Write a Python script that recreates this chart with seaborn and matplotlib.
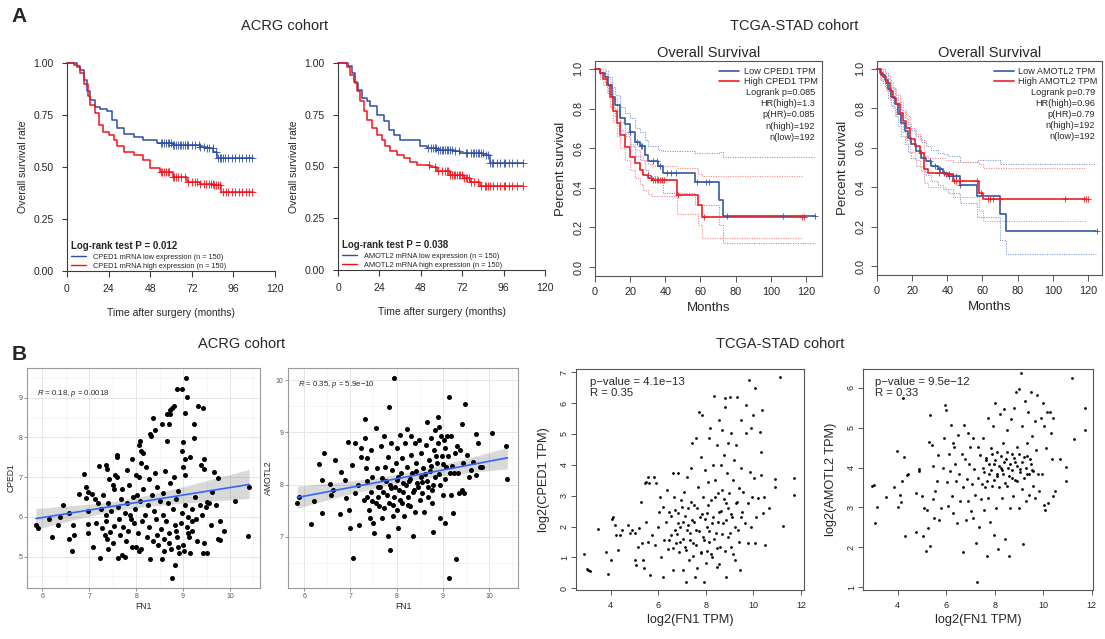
import numpy as np
import matplotlib
matplotlib.use("Agg")
import matplotlib.pyplot as plt
from matplotlib.lines import Line2D
from matplotlib.ticker import AutoMinorLocator
import seaborn as sns

# ── KM data: ACRG cohort (months, survival) ───────────────────────────────────
A1_LOW_T = [0, 6, 7.7, 9.6, 11.5, 13.4, 16.3, 19.2, 23, 26, 28.8, 32.6, 38.4, 44, 52, 61, 77, 80.6, 84.5, 86.4, 107.5]
A1_LOW_S = [1.0, 0.985, 0.965, 0.92, 0.863, 0.823, 0.79, 0.78, 0.77, 0.727, 0.687, 0.66, 0.646, 0.63, 0.617, 0.606, 0.598, 0.59, 0.57, 0.542, 0.542]
A1_HIGH_T = [0, 4, 5.8, 7.7, 9.6, 12, 13.4, 16.3, 18.2, 21, 24, 26.9, 28.8, 32.6, 38.4, 44, 48, 53.8, 61, 69, 77, 84.5, 89, 107.5]
A1_HIGH_S = [1.0, 0.99, 0.98, 0.95, 0.90, 0.84, 0.80, 0.76, 0.70, 0.67, 0.655, 0.63, 0.60, 0.574, 0.558, 0.534, 0.494, 0.477, 0.453, 0.43, 0.42, 0.413, 0.38, 0.38]
A1_LOW_CENS = [54, 55, 56, 57, 58, 59, 60, 61, 62, 63, 64, 65, 66, 67, 68, 69, 70, 72, 74, 76, 77, 79, 81, 82, 84,
               86, 87, 88, 89, 90, 91, 93, 95, 97, 99, 101, 103, 105, 107]
A1_HIGH_CENS = [54, 55, 56, 57, 58, 59, 61, 62, 63, 64, 66, 68, 70, 72, 74, 75, 77, 79, 80, 82, 83, 84, 85, 86,
                87, 88, 90, 92, 93, 95, 97, 99, 101, 103, 105, 107]
A1_LABELS = ["CPED1 mRNA low expression (n = 150)", "CPED1 mRNA high expression (n = 150)"]
A1_P = "Log-rank test P = 0.012"

A2_LOW_T = [0, 6, 8.1, 10, 11.4, 13.9, 16.8, 18.7, 22.6, 26.4, 29.3, 32.2, 36, 47.7, 51.5, 57.3, 67, 70.8, 84.3, 88, 107.5]
A2_LOW_S = [1.0, 0.985, 0.952, 0.903, 0.87, 0.83, 0.815, 0.79, 0.75, 0.718, 0.677, 0.653, 0.629, 0.597, 0.589, 0.58, 0.573, 0.565, 0.556, 0.516, 0.516]
A2_HIGH_T = [0, 5.2, 7.1, 9, 11, 12.9, 14.9, 16.8, 19.7, 22.6, 25.5, 27.4, 30.3, 34.2, 38, 42, 45.8, 53.5, 57.3, 65, 72.8, 76.6, 82.4, 107.5]
A2_HIGH_S = [1.0, 0.98, 0.94, 0.91, 0.863, 0.815, 0.766, 0.726, 0.685, 0.653, 0.629, 0.597, 0.573, 0.556, 0.54, 0.524, 0.508, 0.50, 0.476, 0.46, 0.444, 0.427, 0.406, 0.406]
A2_LOW_CENS = [52, 54, 55, 56, 57, 58, 59, 60, 61, 62, 63, 64, 65, 66, 68, 70, 74, 75, 77, 78, 79, 80, 81, 82, 83,
               84, 86, 87, 88, 89, 90, 92, 94, 96, 97, 99, 101, 104, 107]
A2_HIGH_CENS = [53, 56, 58, 60, 62, 63, 64, 65, 66, 67, 68, 69, 70, 71, 72, 73, 74, 75, 76, 77, 79, 81, 83, 85, 86,
                87, 88, 90, 92, 94, 96, 97, 99, 101, 104, 107]
A2_LABELS = ["AMOTL2 mRNA low expression (n = 150)", "AMOTL2 mRNA high expression (n = 150)"]
A2_P = "Log-rank test P = 0.038"

# ── KM data: TCGA-STAD (GEPIA) with 95% CI ────────────────────────────────────
A3_LOW_T = [0, 2.8, 5.7, 7.6, 9.5, 11.4, 14.2, 17, 19.9, 22.7, 25.6, 28.4, 30.3, 36, 38.9, 57, 70.3, 73, 125]
A3_LOW_S = [1, .98, .96, .92, .86, .82, .75, .72, .68, .63, .61, .566, .533, .508, .474, .427, .34, .256, .256]
A3_LOW_HI = [1, 1, .99, .96, .91, .87, .81, .78, .75, .70, .68, .64, .61, .59, .585, .575, .58, .555, .555]
A3_LOW_LO = [1, .96, .93, .88, .81, .76, .69, .66, .61, .56, .54, .49, .46, .43, .375, .315, .21, .12, .12]
A3_HIGH_T = [0, 2.8, 4.7, 6.6, 8.5, 10.4, 12.3, 14.2, 17, 19.9, 22.7, 25.6, 27.5, 30.3, 32.2, 46.4, 58.8, 60.7, 117.5]
A3_HIGH_S = [1, .98, .95, .92, .86, .79, .726, .667, .608, .558, .524, .49, .466, .449, .44, .365, .314, .255, .255]
A3_HIGH_HI = [1, 1, .98, .96, .91, .85, .79, .73, .67, .62, .59, .56, .54, .52, .51, .50, .47, .46, .46]
A3_HIGH_LO = [1, .95, .92, .88, .81, .73, .66, .60, .54, .49, .45, .42, .39, .37, .36, .27, .21, .145, .145]
A3_LOW_CENS = [20, 24, 26, 27, 33, 35, 37, 41, 43, 46, 58, 63, 65, 75, 107, 125]
A3_HIGH_CENS = [30, 32, 33, 34, 35, 36, 37, 38, 39, 47, 62, 118, 119]
A3_LABELS = ["Low CPED1 TPM", "High CPED1 TPM"]
A3_STATS = ["Logrank p=0.085", "HR(high)=1.3", "p(HR)=0.085", "n(high)=192", "n(low)=192"]

A4_LOW_T = [0, 2.5, 4.4, 6.3, 8.2, 10, 12, 13.8, 15.7, 17.6, 19.5, 22.4, 25.2, 28, 31, 34.7, 37.5, 40.4, 47, 57, 69.8, 73.2, 124.7]
A4_LOW_S = [1, .97, .945, .90, .86, .82, .77, .726, .684, .65, .617, .583, .55, .533, .508, .49, .474, .457, .41, .356, .264, .18, .18]
A4_LOW_HI = [1, 1, .98, .95, .91, .87, .83, .79, .75, .72, .69, .66, .63, .61, .59, .575, .57, .56, .53, .54, .52, .52, .52]
A4_LOW_LO = [1, .94, .91, .85, .81, .76, .71, .66, .62, .58, .55, .51, .48, .46, .43, .41, .39, .37, .32, .25, .13, .06, .06]
A4_HIGH_T = [0, 1.5, 3.4, 5.3, 7.2, 9.1, 11, 12.9, 14.8, 16.7, 18.6, 21.4, 24.3, 27, 29, 38.5, 43.2, 58, 60.3, 119]
A4_HIGH_S = [1, .98, .96, .93, .886, .852, .82, .776, .734, .70, .642, .608, .575, .49, .474, .466, .432, .373, .34, .34]
A4_HIGH_HI = [1, 1, .99, .97, .93, .90, .87, .83, .79, .76, .70, .67, .64, .56, .55, .54, .53, .52, .50, .50]
A4_HIGH_LO = [1, .95, .93, .89, .84, .80, .77, .72, .68, .64, .58, .54, .51, .42, .40, .39, .35, .28, .23, .23]
A4_LOW_CENS = [30, 33, 35, 36, 38, 41, 43, 45, 47, 125]
A4_HIGH_CENS = [25, 35, 39, 41, 44, 45, 47, 57, 59, 63, 64, 66, 70, 107, 118, 119, 120]
A4_LABELS = ["Low AMOTL2 TPM", "High AMOTL2 TPM"]
A4_STATS = ["Logrank p=0.79", "HR(high)=0.96", "p(HR)=0.79", "n(high)=192", "n(low)=192"]

# ── scatter data: ACRG cohort (FN1 vs CPED1 / AMOTL2) ─────────────────────────
B1_X = [5.86, 5.90, 6.14, 6.21, 6.33, 6.43, 6.37, 6.57, 6.57, 6.64,
        6.67, 6.65, 6.78, 6.89, 6.93, 6.92, 6.98, 6.98, 6.98, 6.98,
        7.05, 7.08, 7.12, 7.21, 7.22, 7.15, 7.18, 7.25, 7.28, 7.30,
        7.33, 7.35, 7.36, 7.38, 7.40, 7.41, 7.40, 7.35, 7.38, 7.45,
        7.47, 7.50, 7.52, 7.50, 7.53, 7.55, 7.58, 7.60, 7.60, 7.61,
        7.62, 7.63, 7.65, 7.68, 7.70, 7.70, 7.72, 7.75, 7.76, 7.78,
        7.80, 7.81, 7.83, 7.85, 7.87, 7.88, 7.90, 7.92, 7.93, 7.95,
        7.97, 8.00, 8.00, 8.02, 8.03, 8.05, 8.05, 8.07, 8.05, 8.08,
        8.10, 8.10, 8.10, 8.12, 8.15, 8.15, 8.18, 8.20, 8.22, 8.25,
        8.27, 8.28, 8.29, 8.30, 8.32, 8.33, 8.35, 8.35, 8.38, 8.40,
        8.40, 8.42, 8.45, 8.47, 8.50, 8.52, 8.55, 8.56, 8.57, 8.58,
        8.60, 8.62, 8.63, 8.65, 8.66, 8.67, 8.70, 8.70, 8.71, 8.72,
        8.73, 8.75, 8.76, 8.77, 8.78, 8.80, 8.80, 8.82, 8.83, 8.85,
        8.88, 8.88, 8.90, 8.92, 8.95, 8.97, 8.97, 8.98, 9.00, 9.00,
        9.02, 9.04, 9.05, 9.05, 9.05, 9.06, 9.08, 9.09, 9.10, 9.12,
        9.15, 9.15, 9.18, 9.20, 9.23, 9.23, 9.25, 9.28, 9.32, 9.35,
        9.38, 9.40, 9.42, 9.43, 9.45, 9.45, 9.45, 9.48, 9.50, 9.50,
        9.55, 9.62, 9.66, 9.70, 9.74, 9.75, 9.78, 9.79, 9.87, 10.11,
        10.41, 10.39,
        8.70, 8.85, 8.90, 9.00, 9.10, 9.20, 9.30, 9.60, 8.45, 8.60]
B1_Y = [5.80, 5.72, 5.96, 5.50, 5.80, 6.30, 5.99, 6.11, 5.44, 5.15,
        5.55, 5.80, 6.57, 7.07, 6.76, 6.47, 6.64, 6.14, 5.81, 5.59,
        6.58, 5.23, 6.45, 7.28, 4.96, 5.85, 6.35, 6.20, 5.72, 6.55,
        5.55, 6.05, 7.30, 7.20, 5.20, 6.95, 6.35, 5.90, 5.45, 5.62,
        6.15, 6.80, 6.70, 5.35, 5.78, 7.05, 7.00, 7.55, 7.50, 4.97,
        6.25, 5.95, 5.55, 6.45, 6.70, 5.05, 5.75, 4.98, 6.10, 5.40,
        6.35, 7.18, 5.65, 6.80, 6.05, 5.95, 5.25, 7.47, 6.50, 5.85,
        6.20, 7.05, 5.25, 6.55, 5.60, 7.00, 7.80, 7.90, 5.15, 6.40,
        7.65, 5.20, 7.35, 5.90, 7.60, 6.70, 6.05, 7.25, 5.50, 6.30,
        6.95, 5.75, 4.93, 8.10, 8.05, 6.55, 8.50, 5.40, 6.15, 8.20,
        7.10, 5.95, 6.75, 5.30, 6.40, 5.70, 4.93, 8.33, 6.60, 6.05,
        5.45, 7.15, 5.90, 7.90, 8.60, 6.35, 8.35, 5.60, 8.60, 6.85,
        8.70, 5.20, 4.45, 8.75, 6.20, 8.80, 7.00, 5.80, 4.79, 6.45,
        9.21, 5.50, 6.65, 5.10, 5.85, 9.23, 6.10, 7.65, 7.89, 7.25,
        5.15, 8.61, 7.45, 7.05, 6.30, 9.49, 5.75, 9.03, 6.00, 5.50,
        7.50, 5.10, 6.20, 5.65, 8.33, 7.98, 6.50, 5.95, 8.79, 6.30,
        7.30, 6.05, 8.74, 5.09, 7.45, 7.20, 5.35, 6.25, 5.10, 6.38,
        6.35, 6.64, 7.14, 6.30, 6.99, 5.45, 5.42, 5.90, 5.64, 6.41,
        6.75, 5.53,
        5.35, 5.65, 5.25, 5.30, 5.60, 5.90, 5.40, 5.80, 5.55, 5.15]
B1_NOTE = r"$\it{R}$ = 0.18, $\it{p}$ = 0.0018"

B2_X = [5.85, 5.89, 6.22, 6.14, 6.32, 6.38, 6.39, 6.43, 6.56, 6.58,
        6.63, 6.66, 6.77, 6.79, 6.88, 6.90, 6.95, 6.97, 6.99, 7.04,
        7.06, 7.10, 7.11, 7.17, 7.18, 7.22, 7.24, 7.31, 7.31, 7.33,
        7.35, 7.37, 7.37, 7.40, 7.42, 7.44, 7.46, 7.47, 7.49, 7.52,
        7.55, 7.57, 7.59, 7.60, 7.62, 7.66, 7.68, 7.69, 7.71, 7.73,
        7.75, 7.78, 7.81, 7.82, 7.83, 7.83, 7.86, 7.88, 7.89, 7.91,
        7.93, 7.94, 7.95, 7.98, 8.00, 8.00, 8.02, 8.04, 8.06, 8.07,
        8.09, 8.11, 8.12, 8.14, 8.17, 8.18, 8.22, 8.22, 8.24, 8.27,
        8.29, 8.31, 8.32, 8.34, 8.36, 8.38, 8.40, 8.41, 8.43, 8.45,
        8.48, 8.51, 8.53, 8.54, 8.56, 8.58, 8.60, 8.63, 8.65, 8.67,
        8.69, 8.70, 8.72, 8.74, 8.76, 8.77, 8.79, 8.82, 8.83, 8.84,
        8.87, 8.89, 8.90, 8.92, 8.94, 8.95, 8.97, 8.99, 9.01, 9.03,
        9.05, 9.06, 9.08, 9.10, 9.13, 9.14, 9.16, 9.18, 9.19, 9.23,
        9.25, 9.28, 9.30, 9.34, 9.35, 9.37, 9.41, 9.42, 9.44, 9.47,
        9.48, 9.52, 9.57, 9.61, 9.66, 9.71, 9.73, 9.77, 9.80, 9.86,
        10.07, 10.38, 10.40,
        7.30, 7.45, 7.55, 7.65, 7.72, 7.80, 7.85, 7.92, 7.97, 8.03,
        8.08, 8.13, 8.20, 8.25, 8.30, 8.35, 8.42, 8.47, 8.55, 8.62,
        8.68, 8.75, 8.80, 8.86, 8.93, 9.00, 9.05, 9.12, 9.20, 9.27]
B2_Y = [7.64, 7.77, 7.68, 7.25, 8.39, 7.45, 8.08, 8.60, 8.01, 7.80,
        7.89, 8.46, 7.43, 8.24, 8.09, 7.74, 8.82, 7.52, 7.17, 8.38,
        6.59, 7.83, 8.79, 7.99, 7.23, 8.69, 8.53, 9.25, 8.89, 8.31,
        8.06, 7.77, 8.50, 7.52, 7.36, 8.66, 7.68, 8.15, 7.26, 7.07,
        9.08, 8.31, 7.96, 7.77, 7.58, 8.73, 8.12, 7.36, 7.86, 8.92,
        8.34, 8.06, 7.01, 8.53, 9.49, 7.64, 6.75, 8.79, 7.93, 8.28,
        7.39, 10.03, 7.77, 8.41, 8.09, 7.52, 8.69, 7.17, 7.90, 8.95,
        8.22, 7.64, 8.50, 8.03, 7.39, 8.79, 9.06, 8.34, 7.77, 8.06,
        7.58, 8.93, 8.57, 8.22, 7.01, 7.90, 8.79, 7.48, 8.41, 8.03,
        8.85, 7.71, 8.15, 8.60, 7.83, 8.31, 7.48, 8.76, 9.20, 8.06,
        7.77, 8.47, 8.25, 8.89, 7.90, 7.64, 7.10, 8.66, 9.04, 8.15,
        8.41, 8.79, 9.30, 9.11, 7.99, 7.36, 8.92, 8.54, 7.80, 8.85,
        7.26, 8.69, 8.34, 8.92, 9.68, 6.21, 8.22, 8.92, 7.80, 7.45,
        8.22, 6.57, 8.73, 8.22, 7.83, 8.66, 9.15, 7.90, 8.41, 7.83,
        9.55, 8.57, 8.15, 8.28, 8.44, 8.97, 8.18, 8.79, 8.34, 8.34,
        8.99, 8.74, 8.11,
        7.70, 7.85, 7.65, 7.95, 7.55, 7.80, 8.00, 7.60, 7.95, 8.15,
        7.70, 7.85, 8.00, 7.60, 8.10, 7.85, 8.25, 7.95, 8.05, 8.20,
        7.95, 8.35, 8.00, 8.55, 8.20, 8.40, 8.10, 8.55, 8.35, 8.60]
B2_NOTE = r"$\it{R}$ = 0.35, $\it{p}$ = 5.9e−10"

# ── scatter data: TCGA-STAD (log2 TPM) ────────────────────────────────────────
B3_X = [2.89, 2.99, 3.06, 3.13, 3.48, 3.80, 3.90, 4.01, 4.04, 4.11,
        4.18, 4.22, 4.29, 4.39, 4.46, 4.71, 4.81, 4.91, 5.02, 5.04,
        5.06, 5.13, 5.20, 5.27, 5.31, 5.37, 5.41, 5.48, 5.46, 5.49,
        5.56, 5.57, 5.61, 5.66, 5.73, 5.80, 5.85, 5.92, 5.98, 6.03,
        6.07, 6.11, 6.18, 6.22, 6.25, 6.32, 6.36, 6.39, 6.46, 6.53,
        6.60, 6.64, 6.67, 6.70, 6.74, 6.81, 6.85, 6.88, 6.92, 6.95,
        7.02, 7.06, 7.08, 7.11, 7.15, 7.19, 7.22, 7.25, 7.29, 7.33,
        7.36, 7.40, 7.43, 7.47, 7.50, 7.54, 7.57, 7.60, 7.64, 7.67,
        7.71, 7.74, 7.78, 7.81, 7.85, 7.88, 7.89, 7.92, 7.95, 7.99,
        8.03, 8.06, 8.08, 8.12, 8.15, 8.19, 8.22, 8.25, 8.30, 8.32,
        8.34, 8.38, 8.41, 8.45, 8.48, 8.52, 8.54, 8.57, 8.60, 8.64,
        8.67, 8.70, 8.73, 8.76, 8.79, 8.82, 8.85, 8.86, 8.89, 8.92,
        8.95, 8.98, 9.02, 9.04, 9.08, 9.11, 9.15, 9.19, 9.22, 9.25,
        9.29, 9.33, 9.36, 9.39, 9.43, 9.47, 9.50, 9.54, 9.58, 9.63,
        9.67, 9.71, 9.76, 9.78, 9.81, 9.85, 9.89, 9.92, 9.94, 9.99,
        10.02, 10.06, 10.08, 10.13, 10.20, 10.27, 10.31, 10.34, 10.37, 10.41,
        10.45, 10.48, 10.65, 10.90, 10.90, 11.13, 11.26, 11.69, 11.73,
        6.45, 6.55, 6.62, 6.70, 6.78, 6.85, 6.92, 7.00, 7.05, 7.12,
        7.18, 7.25, 7.32, 7.38, 7.45, 7.52, 7.58, 7.65, 7.72, 7.80,
        7.85, 7.92, 7.98, 8.05, 8.10, 8.15, 8.20, 8.28, 8.35, 8.40,
        8.45, 8.50, 8.55, 8.62, 8.68, 8.75, 8.80, 8.85, 8.92, 9.00,
        9.08, 9.15, 9.22, 9.30, 9.40, 9.50]
B3_Y = [1.11, 0.62, 0.59, 0.57, 1.92, 1.19, 0.46, 0.92, 2.24, 2.32,
        2.05, 1.73, 1.24, 1.73, 1.89, 2.05, 1.78, 1.89, 1.80, 0.92,
        0.76, 1.35, 1.95, 2.81, 1.46, 0.92, 0.65, 2.16, 3.40, 3.45,
        3.62, 1.51, 3.40, 0.43, 1.73, 3.62, 1.40, 3.40, 2.00, 2.46,
        2.97, 1.03, 0.38, 2.65, 1.57, 2.16, 3.18, 1.27, 2.48, 1.73,
        0.59, 3.73, 2.97, 1.89, 1.46, 2.45, 3.73, 1.19, 2.00, 2.86,
        0.59, 2.16, 3.13, 1.35, 0.22, 1.89, 3.62, 2.59, 0.92, 1.78,
        3.89, 2.21, 4.72, 1.46, 2.70, 0.38, 4.86, 1.89, 0.65, 3.29,
        5.72, 2.32, 4.27, 1.19, 5.62, 2.97, 1.67, 0.22, 3.84, 0.81,
        2.43, 2.00, 3.45, 4.86, 1.51, 5.18, 2.86, 1.03, 4.00, 2.32,
        6.23, 3.51, 1.78, 4.64, 0.70, 3.08, 5.45, 2.48, 1.35, 4.00,
        5.13, 3.18, 2.11, 4.32, 6.16, 5.89, 0.38, 2.75, 3.73, 1.67,
        4.70, 3.08, 6.21, 1.35, 5.02, 2.32, 3.51, 4.16, 0.92, 2.75,
        4.64, 6.21, 1.89, 3.24, 0.59, 3.89, 5.45, 2.48, 3.13, 2.11,
        5.02, 5.93, 2.75, 1.46, 6.75, 3.78, 2.00, 5.18, 2.97, 5.62,
        3.56, 6.48, 1.46, 2.32, 2.92, 5.05, 3.67, 4.43, 5.78, 2.43,
        2.97, 1.40, 2.59, 3.54, 3.27, 6.84, 2.03, 3.56, 3.02,
        1.55, 2.35, 1.30, 2.55, 1.75, 2.10, 1.50, 2.65, 1.60, 2.35,
        1.25, 2.05, 1.55, 2.80, 1.05, 2.15, 1.40, 2.60, 1.85, 1.15,
        2.40, 1.55, 2.25, 1.20, 2.70, 1.85, 1.10, 2.10, 1.60, 2.95,
        1.30, 2.15, 0.80, 2.50, 1.75, 2.90, 1.20, 2.20, 2.60, 1.80,
        2.40, 1.10, 2.00, 2.80, 1.50, 2.30]
B3_NOTE = ["p−value = 4.1e−13", "R = 0.35"]

B4_X = [2.93, 3.02, 3.07, 3.16, 3.52, 3.85, 3.99, 4.03, 4.10, 4.14,
        4.18, 4.21, 4.26, 4.32, 4.40, 4.41, 4.74, 4.76, 4.87, 4.89,
        5.00, 5.06, 5.09, 5.15, 5.20, 5.26, 5.29, 5.33, 5.33, 5.40,
        5.44, 5.47, 5.50, 5.54, 5.61, 5.65, 5.70, 5.77, 5.86, 5.91,
        5.95, 6.00, 6.02, 6.09, 6.13, 6.16, 6.20, 6.23, 6.27, 6.30,
        6.34, 6.36, 6.41, 6.46, 6.50, 6.54, 6.57, 6.64, 6.68, 6.71,
        6.75, 6.79, 6.82, 6.85, 6.89, 6.91, 6.95, 6.98, 7.02, 7.05,
        7.09, 7.12, 7.16, 7.19, 7.22, 7.26, 7.29, 7.33, 7.37, 7.40,
        7.44, 7.46, 7.51, 7.53, 7.57, 7.60, 7.64, 7.67, 7.71, 7.74,
        7.78, 7.81, 7.84, 7.88, 7.92, 7.95, 7.97, 8.01, 8.04, 8.08,
        8.11, 8.15, 8.18, 8.22, 8.25, 8.29, 8.33, 8.36, 8.40, 8.43,
        8.45, 8.49, 8.52, 8.56, 8.60, 8.63, 8.66, 8.70, 8.73, 8.77,
        8.80, 8.84, 8.88, 8.91, 8.93, 8.98, 9.02, 9.04, 9.07, 9.11,
        9.14, 9.18, 9.21, 9.25, 9.28, 9.32, 9.35, 9.39, 9.43, 9.46,
        9.50, 9.53, 9.57, 9.59, 9.64, 9.66, 9.70, 9.76, 9.80, 9.84,
        9.90, 9.94, 9.98, 10.01, 10.03, 10.08, 10.12, 10.14, 10.21, 10.28,
        10.31, 10.35, 10.39, 10.42, 10.49, 10.69, 10.94, 10.94, 11.20, 11.27,
        11.70, 11.73,
        7.55, 7.62, 7.70, 7.76, 7.83, 7.90, 7.96, 8.03, 8.10, 8.17,
        8.24, 8.31, 8.38, 8.44, 8.51, 8.58, 8.64, 8.71, 8.78, 8.85,
        8.92, 8.99, 9.06, 9.13, 9.20, 9.27, 9.34, 9.41, 9.48, 9.55]
B4_Y = [3.54, 3.56, 2.62, 3.00, 3.26, 3.50, 4.41, 3.00, 3.31, 3.14,
        3.65, 5.74, 4.26, 2.28, 3.82, 3.85, 3.35, 2.39, 3.91, 3.97,
        3.28, 2.28, 2.99, 1.90, 2.93, 2.49, 4.63, 5.32, 2.04, 4.56,
        3.20, 4.05, 2.74, 3.41, 3.67, 4.31, 2.68, 2.98, 4.00, 4.75,
        5.56, 5.44, 3.63, 3.04, 4.35, 3.91, 5.07, 3.28, 4.61, 2.85,
        4.52, 4.09, 3.67, 2.62, 4.82, 3.84, 3.15, 4.35, 1.89, 3.50,
        5.07, 4.22, 2.68, 3.71, 4.86, 3.15, 4.09, 4.52, 2.91, 3.58,
        4.74, 2.73, 3.97, 3.32, 2.11, 1.13, 4.52, 3.75, 2.51, 4.31,
        3.20, 3.58, 4.74, 4.00, 2.94, 3.50, 4.18, 1.79, 5.25, 3.24,
        3.84, 2.64, 4.48, 3.54, 5.03, 2.30, 4.09, 5.61, 2.98, 3.79,
        4.39, 1.97, 3.50, 5.33, 4.00, 3.24, 4.61, 3.84, 5.46, 2.21,
        4.22, 3.54, 4.95, 4.00, 1.79, 2.98, 5.21, 4.35, 3.75, 3.28,
        5.50, 4.13, 5.89, 3.67, 4.52, 2.98, 5.97, 3.97, 6.38, 5.03,
        3.45, 2.09, 4.26, 5.68, 3.15, 4.61, 3.84, 5.38, 3.32, 4.22,
        5.89, 4.78, 3.54, 3.92, 5.16, 3.24, 4.45, 5.82, 3.84, 3.41,
        5.25, 3.84, 5.63, 3.07, 5.03, 2.94, 4.48, 5.38, 3.11, 5.38,
        4.86, 4.22, 5.25, 3.28, 3.41, 4.22, 4.01, 3.65, 6.25, 4.71,
        5.49, 4.95,
        3.90, 4.25, 3.65, 4.10, 3.95, 4.35, 3.70, 4.20, 3.85, 4.05,
        4.30, 3.95, 4.15, 3.60, 4.40, 3.80, 4.10, 3.95, 4.25, 3.70,
        4.05, 4.35, 3.90, 4.15, 3.75, 4.00, 4.30, 3.85, 4.10, 3.95]
B4_NOTE = ["p−value = 9.5e−12", "R = 0.33"]

# ── style ─────────────────────────────────────────────────────────────────────
sns.set_theme(style="ticks")
plt.rcParams["font.family"] = ["Liberation Sans", "DejaVu Sans"]
plt.rcParams["mathtext.fontset"] = "custom"
plt.rcParams["mathtext.rm"] = "Liberation Sans"
plt.rcParams["mathtext.it"] = "Liberation Sans:italic"

W, H = 1105, 639
BLUE_A, RED_A = "#2D4DA8", "#F2121C"
BLUE_T, RED_T = "#3557A6", "#EE1D26"
BLUE_CI, RED_CI = "#7E98D4", "#F58A8A"
DARK = "#3a3a3a"


def box(l, t, r, b):
    return [l / W, 1 - b / H, (r - l) / W, (b - t) / H]


def step_at(times, surv, t):
    idx = np.searchsorted(times, t, side="right") - 1
    return np.asarray(surv)[idx]


def draw_km(ax, times, surv, color, cens, ms, lw):
    sns.lineplot(x=times, y=surv, ax=ax, color=color, linewidth=lw,
                 drawstyle="steps-post", estimator=None, sort=False, clip_on=False)
    ax.scatter(cens, step_at(times, surv, cens), marker="+", s=ms, color=color,
               linewidths=0.6, clip_on=False, zorder=3)


def acrg_km(ax, low_t, low_s, low_c, high_t, high_s, high_c, labels, ptext):
    draw_km(ax, low_t, low_s, BLUE_A, low_c, 28, 1.1)
    draw_km(ax, high_t, high_s, RED_A, high_c, 28, 1.1)
    ax.set_xlim(0, 120)
    ax.set_ylim(0, 1)
    ax.set_xticks([0, 24, 48, 72, 96, 120])
    ax.set_yticks([0, 0.25, 0.5, 0.75, 1.0])
    ax.set_yticklabels(["0.00", "0.25", "0.50", "0.75", "1.00"])
    sns.despine(ax=ax)
    for s in ["left", "bottom"]:
        ax.spines[s].set_color(DARK)
        ax.spines[s].set_linewidth(0.8)
    ax.tick_params(axis="x", length=4.2, width=0.8, color=DARK, labelsize=7.5, pad=5.5)
    ax.tick_params(axis="y", length=3.6, width=0.8, color=DARK, labelsize=7.5, pad=6)
    ax.set_xlabel("Time after surgery (months)", fontsize=7.5, labelpad=10)
    ax.set_ylabel("Overall survival rate", fontsize=7.5, labelpad=4)
    handles = [Line2D([], [], color=BLUE_A, lw=1), Line2D([], [], color=RED_A, lw=1)]
    ax.legend(handles, labels, loc="lower left", bbox_to_anchor=(0.015, 0.0), frameon=False,
              fontsize=5.3, title=ptext, title_fontproperties={"weight": "bold", "size": 7},
              alignment="left", handlelength=2.0, handletextpad=0.9, labelspacing=0.3,
              borderpad=0.15, borderaxespad=0)


def tcga_km(ax, low, high, low_c, high_c, labels, stats, xmax):
    for (t, s, hi, lo), col, ci_col in [(low, BLUE_T, BLUE_CI), (high, RED_T, RED_CI)]:
        ax.step(t, hi, where="post", color=ci_col, lw=0.8, ls=(0, (1, 1.2)))
        ax.step(t, lo, where="post", color=ci_col, lw=0.8, ls=(0, (1, 1.2)))
    draw_km(ax, low[0], low[1], BLUE_T, low_c, 22, 1.2)
    draw_km(ax, high[0], high[1], RED_T, high_c, 22, 1.2)
    ax.set_xlim(0, xmax)
    ax.set_ylim(-0.045, 1.04)
    ax.set_xticks([0, 20, 40, 60, 80, 100, 120])
    ax.set_yticks([0, 0.2, 0.4, 0.6, 0.8, 1.0])
    ax.set_yticklabels(["0.0", "0.2", "0.4", "0.6", "0.8", "1.0"])
    for s in ax.spines.values():
        s.set_color("#555555")
        s.set_linewidth(0.8)
    ax.tick_params(length=4.2, width=0.7, color="#555555", labelsize=7.8, pad=4)
    ax.tick_params(axis="y", labelrotation=90)
    for lab in ax.get_yticklabels():
        lab.set_va("center")
    ax.set_xlabel("Months", fontsize=9.5, labelpad=3)
    ax.set_ylabel("Percent survival", fontsize=9.5, labelpad=5)
    ax.set_title("Overall Survival", fontsize=10.5, pad=3)
    handles = [Line2D([], [], color=BLUE_T, lw=1.2), Line2D([], [], color=RED_T, lw=1.2)]
    ax.legend(handles, labels, loc="upper right", bbox_to_anchor=(0.985, 0.975), frameon=False,
              fontsize=6.6, handlelength=2.2, handletextpad=0.5, labelspacing=0.05,
              borderpad=0.1, borderaxespad=0)
    for i, txt in enumerate(stats):
        ax.text(0.969, 0.852 - i * 0.0515, txt, transform=ax.transAxes, ha="right",
                va="center", fontsize=6.6)


def gg_scatter(ax, x, y, note, ylabel, xlim, ylim, yticks, note_y):
    sns.regplot(x=x, y=y, ax=ax, scatter=False, color="black", seed=3,
                line_kws={"alpha": 0}, truncate=True)
    sns.scatterplot(x=x, y=y, ax=ax, color="black", s=13, linewidth=0, zorder=3)
    sns.regplot(x=x, y=y, ax=ax, scatter=False, ci=None, color="#3366FF",
                line_kws={"lw": 1.2, "zorder": 4}, truncate=True)
    ax.set_xlim(*xlim)
    ax.set_ylim(*ylim)
    ax.set_xticks([6, 7, 8, 9, 10])
    ax.set_yticks(yticks)
    ax.xaxis.set_minor_locator(AutoMinorLocator(2))
    ax.yaxis.set_minor_locator(AutoMinorLocator(2))
    ax.grid(which="major", color="#E6E6E6", lw=0.7)
    ax.grid(which="minor", color="#F2F2F2", lw=0.5)
    ax.set_axisbelow(True)
    for s in ax.spines.values():
        s.set_color("#9a9a9a")
        s.set_linewidth(0.8)
    ax.tick_params(which="major", length=2, width=0.5, color="#666666", labelsize=5,
                   labelcolor="#555555", pad=1.5)
    ax.tick_params(which="minor", length=0)
    ax.set_xlabel("FN1", fontsize=6.2, labelpad=1.5)
    ax.set_ylabel(ylabel, fontsize=6.2, labelpad=1.5)
    ax.text(0.042, note_y, note, transform=ax.transAxes, fontsize=5.6, va="center")


def base_scatter(ax, x, y, notes, ylabel, xlim, ylim, yticks, note_x):
    sns.scatterplot(x=x, y=y, ax=ax, color="black", s=4, linewidth=0)
    ax.set_xlim(*xlim)
    ax.set_ylim(*ylim)
    ax.set_xticks([4, 6, 8, 10, 12])
    ax.set_yticks(yticks)
    for s in ax.spines.values():
        s.set_color("#555555")
        s.set_linewidth(0.8)
    ax.tick_params(length=3.6, width=0.7, color="#555555", labelsize=6.5)
    ax.tick_params(axis="x", pad=4.5)
    ax.tick_params(axis="y", labelrotation=90, pad=1.5)
    for lab in ax.get_yticklabels():
        lab.set_va("center")
    ax.set_xlabel("log2(FN1 TPM)", fontsize=9.2, labelpad=3)
    ax.set_ylabel(ylabel, fontsize=9.2, labelpad=7)
    ax.text(note_x, 0.943, notes[0], transform=ax.transAxes, fontsize=8.2, va="center")
    ax.text(note_x, 0.891, notes[1], transform=ax.transAxes, fontsize=8.2, va="center")


fig = plt.figure(figsize=(W / 100, H / 100), dpi=100)

ax1 = fig.add_axes(box(67, 63, 275, 271))
acrg_km(ax1, A1_LOW_T, A1_LOW_S, A1_LOW_CENS, A1_HIGH_T, A1_HIGH_S, A1_HIGH_CENS, A1_LABELS, A1_P)
ax2 = fig.add_axes(box(338, 63, 545, 270))
acrg_km(ax2, A2_LOW_T, A2_LOW_S, A2_LOW_CENS, A2_HIGH_T, A2_HIGH_S, A2_HIGH_CENS, A2_LABELS, A2_P)

ax3 = fig.add_axes(box(595, 61, 822, 276))
tcga_km(ax3, (A3_LOW_T, A3_LOW_S, A3_LOW_HI, A3_LOW_LO), (A3_HIGH_T, A3_HIGH_S, A3_HIGH_HI, A3_HIGH_LO),
        A3_LOW_CENS, A3_HIGH_CENS, A3_LABELS, A3_STATS, 129.1)
ax4 = fig.add_axes(box(877, 61, 1102, 275))
tcga_km(ax4, (A4_LOW_T, A4_LOW_S, A4_LOW_HI, A4_LOW_LO), (A4_HIGH_T, A4_HIGH_S, A4_HIGH_HI, A4_HIGH_LO),
        A4_LOW_CENS, A4_HIGH_CENS, A4_LABELS, A4_STATS, 128.0)

ax5 = fig.add_axes(box(27, 368, 260, 588))
gg_scatter(ax5, B1_X, B1_Y, B1_NOTE, "CPED1", (5.67, 10.64), (4.21, 9.75), [5, 6, 7, 8, 9], 0.886)
ax6 = fig.add_axes(box(288, 368, 518, 588))
gg_scatter(ax6, B2_X, B2_Y, B2_NOTE, "AMOTL2", (5.65, 10.63), (6.02, 10.23), [7, 8, 9, 10], 0.927)

ax7 = fig.add_axes(box(576, 369, 804, 590))
base_scatter(ax7, B3_X, B3_Y, B3_NOTE, "log2(CPED1 TPM)", (2.54, 12.13), (-0.055, 7.106),
             [0, 1, 2, 3, 4, 5, 6, 7], 0.061)
ax8 = fig.add_axes(box(863, 369, 1093, 590))
base_scatter(ax8, B4_X, B4_Y, B4_NOTE, "log2(AMOTL2 TPM)", (2.57, 12.05), (0.93, 6.47),
             [1, 2, 3, 4, 5, 6], 0.052)

# ── panel letters and cohort headings ─────────────────────────────────────────
fig.text(19.5 / W, 1 - 17 / H, "A", fontsize=15, fontweight="bold", ha="center", va="center")
fig.text(19.5 / W, 1 - 354 / H, "B", fontsize=15, fontweight="bold", ha="center", va="center")
fig.text(285 / W, 1 - 26 / H, "ACRG cohort", fontsize=10.5, ha="center", va="center")
fig.text(794 / W, 1 - 26 / H, "TCGA-STAD cohort", fontsize=10.5, ha="center", va="center")
fig.text(242 / W, 1 - 344 / H, "ACRG cohort", fontsize=10.5, ha="center", va="center")
fig.text(780 / W, 1 - 344 / H, "TCGA-STAD cohort", fontsize=10.5, ha="center", va="center")

fig.savefig("out.png", dpi=100)
